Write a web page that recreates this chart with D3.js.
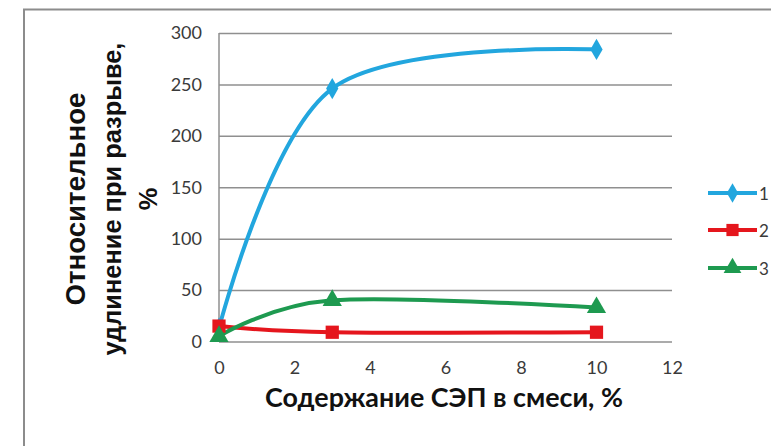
<!DOCTYPE html>
<html>
<head>
<meta charset="utf-8">
<script src="https://cdn.jsdelivr.net/npm/d3@7"></script>
<style>
  html, body { margin: 0; padding: 0; background: #fff; }
  svg { display: block; }
</style>
</head>
<body>
<svg id="chart" width="771" height="446"></svg>
<script>
// data
const xValues = [0, 3, 10];
const series1 = [13, 246, 284];
const series2 = [15, 9, 9];
const series3 = [5, 40, 33];
const seriesNames = ["1", "2", "3"];
const xTicks = [0, 2, 4, 6, 8, 10, 12];
const yTicks = [0, 50, 100, 150, 200, 250, 300];
const yTitleLines = ["Относительное", "удлинение при разрыве,", "%"];
const xTitle = "Содержание СЭП в смеси, %";

const colors = ["#22a6de", "#e5161d", "#1e9a50"];
const symbols = [d3.symbolDiamond, d3.symbolSquare, d3.symbolTriangle];
const symbolSizes = [130, 175, 160];

const svg = d3.select("#chart");
const plot = { left: 219, right: 672, top: 33, bottom: 341.5 };

const x = d3.scaleLinear().domain([0, 12]).range([plot.left, plot.right]);
const y = d3.scaleLinear().domain([0, 300]).range([plot.bottom, plot.top]);

// outer frame (only top and left edges visible)
svg.append("path")
  .attr("d", `M24,446V9.5H771`)
  .attr("fill", "none")
  .attr("stroke", "#8c8c8c")
  .attr("stroke-width", 2);

// gridlines
const grid = svg.append("g")
  .attr("transform", `translate(${plot.left},0)`)
  .call(d3.axisLeft(y).tickValues(yTicks).tickSize(-(plot.right - plot.left)).tickFormat(""));
grid.select(".domain").remove();
grid.selectAll(".tick line").attr("stroke", "#8f8f8f").attr("stroke-width", 1.5);

// vertical axis line
svg.append("line")
  .attr("x1", plot.left).attr("x2", plot.left)
  .attr("y1", y(300)).attr("y2", y(0))
  .attr("stroke", "#8f8f8f").attr("stroke-width", 1.5);

// y tick labels
const gy = svg.append("g")
  .attr("transform", `translate(${plot.left},0)`)
  .call(d3.axisLeft(y).tickValues(yTicks).tickSize(0).tickPadding(17));
gy.select(".domain").remove();
gy.selectAll(".tick text")
  .attr("font-family", "Lato, 'Open Sans', sans-serif")
  .attr("font-size", 18)
  .attr("fill", "#3a3a3a");

// x tick labels
const gx = svg.append("g")
  .attr("transform", `translate(0,${plot.bottom})`)
  .call(d3.axisBottom(x).tickValues(xTicks).tickSize(0).tickPadding(20));
gx.select(".domain").remove();
gx.selectAll(".tick text")
  .attr("font-family", "Lato, 'Open Sans', sans-serif")
  .attr("font-size", 18)
  .attr("fill", "#3a3a3a");

// fit text to a measured width
function fitText(sel, baseSize, target) {
  sel.attr("font-size", baseSize);
  const w = sel.node().getComputedTextLength();
  sel.attr("font-size", baseSize * target / w);
}

// x axis title
const xt = svg.append("text")
  .attr("x", 444).attr("y", 407)
  .attr("text-anchor", "middle")
  .attr("font-family", "Lato, 'Open Sans', sans-serif")
  .attr("font-weight", "bold")
  .attr("fill", "#111")
  .text(xTitle);
fitText(xt, 22, 358);

// y axis title, three rotated lines
const yTitleX = [75, 112, 148];
const yTitleW = [213, 313, null];
let ySize = 26;
yTitleLines.forEach((line, i) => {
  const t = svg.append("text")
    .attr("transform", `translate(${yTitleX[i]},199) rotate(-90)`)
    .attr("text-anchor", "middle")
    .attr("dominant-baseline", "central")
    .attr("font-family", "'Liberation Sans', Arial, sans-serif")
    .attr("font-weight", "bold")
    .attr("fill", "#111")
    .text(line);
  if (yTitleW[i]) {
    fitText(t, 26, yTitleW[i]);
    if (i === 1) ySize = +t.attr("font-size");
  } else {
    t.attr("font-size", ySize);
  }
});

// series
const allSeries = [series1, series2, series3];
const line = d3.line()
  .curve(d3.curveCardinal.tension(0))
  .x((d) => x(d[0]))
  .y((d) => y(d[1]));

const drawOrder = [0, 1, 2];
drawOrder.forEach((i) => {
  const pts = xValues.map((xv, j) => [xv, allSeries[i][j]]);
  svg.append("path")
    .datum(pts)
    .attr("d", line)
    .attr("fill", "none")
    .attr("stroke", colors[i])
    .attr("stroke-width", 4)
    .attr("stroke-linejoin", "round");
});
drawOrder.forEach((i) => {
  const pts = xValues.map((xv, j) => [xv, allSeries[i][j]]);
  svg.append("g").selectAll("path")
    .data(pts)
    .join("path")
    .attr("transform", (d) => `translate(${x(d[0])},${y(d[1])})`)
    .attr("d", d3.symbol().type(symbols[i]).size(symbolSizes[i]))
    .attr("fill", colors[i]);
});

// legend (shifted a little left so the labels stay inside the page)
const legendY = [193, 230, 268];
seriesNames.forEach((name, i) => {
  const g = svg.append("g").attr("transform", `translate(708,${legendY[i]})`);
  g.append("line")
    .attr("x1", 0).attr("x2", 49)
    .attr("stroke", colors[i]).attr("stroke-width", 4);
  g.append("path")
    .attr("transform", "translate(24.5,0)")
    .attr("d", d3.symbol().type(symbols[i]).size(symbolSizes[i] * 0.85))
    .attr("fill", colors[i]);
  g.append("text")
    .attr("x", 51).attr("y", 0)
    .attr("dominant-baseline", "central")
    .attr("font-family", "Lato, 'Open Sans', sans-serif")
    .attr("font-size", 17)
    .attr("fill", "#3a3a3a")
    .text(name);
});
</script>
</body>
</html>
